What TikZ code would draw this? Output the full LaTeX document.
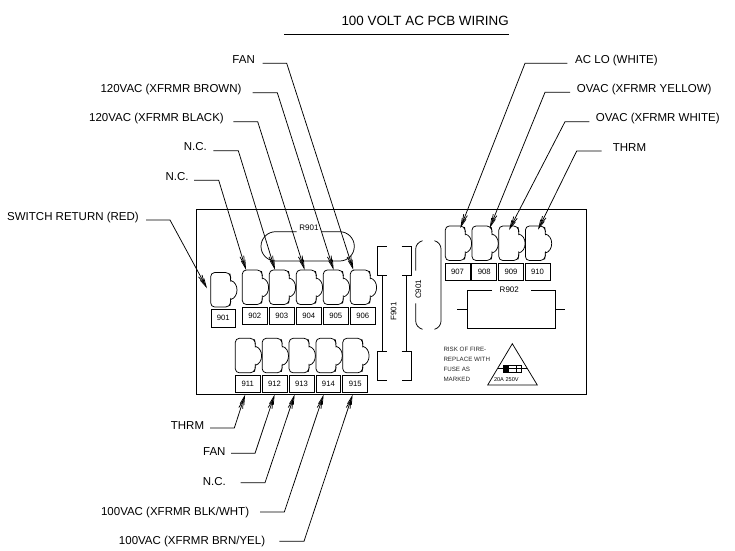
\documentclass[tikz,border=0pt]{standalone}
\usepackage{fontspec}
\setmainfont{Liberation Sans}
\usetikzlibrary{arrows.meta}
\tikzset{
  x=1pt,y=-1pt,
  wire/.style={line width=0.75pt,black},
  leadline/.style={wire,-{Straight Barb[length=8.5pt,width=4pt,sep=-6.5pt]Straight Barb[length=8.5pt,width=4pt]}},
  lbl/.style={inner sep=0pt,font=\fontsize{11.5}{13}\selectfont},
  ttl/.style={inner sep=0pt,font=\fontsize{13.4}{15}\selectfont},
  tiny lbl/.style={inner sep=0pt,font=\fontsize{8}{9}\selectfont},
  warn/.style={inner sep=0pt,anchor=west,font=\fontsize{6.2}{7}\selectfont,text=black!85},
  numbox/.style={draw,wire,inner sep=0pt,minimum width=24.8pt,minimum height=17.4pt,font=\fontsize{7.7}{9}\selectfont},
  plug/.pic={
    \draw[wire,rounded corners=4pt] (20,8) -- (20,5) -- (19,0) -- (0,0) -- (0,34.5) -- (19,34.5) -- (20,29.5) -- (20,27);
    \draw[wire] (20,8) .. controls (24,9) and (26.3,13) .. (26.3,17.5) .. controls (26.3,22) and (24,26) .. (20,27);
  }
}
% name, text, anchor, text x, baseline y, start x, line y, elbow x, tip x, tip y
\newcommand{\leader}[9]{%
  \node[lbl,anchor=base #2] (#1) at (#3,#4) {\csname lt#1\endcsname};
  \coordinate (#1s) at (#5,#6);
  \coordinate (#1e) at (#7,#6);
  \coordinate (#1t) at (#8,#9);
  \draw[leadline] (#1s) -- (#1e) -- (#1t);
}
\expandafter\def\csname ltfanA\endcsname{FAN}
\expandafter\def\csname ltbrownA\endcsname{120VAC (XFRMR BROWN)}
\expandafter\def\csname ltblackA\endcsname{120VAC (XFRMR BLACK)}
\expandafter\def\csname ltncA\endcsname{N.C.}
\expandafter\def\csname ltncB\endcsname{N.C.}
\expandafter\def\csname ltswitchA\endcsname{SWITCH RETURN (RED)}
\expandafter\def\csname ltaclo\endcsname{AC LO (WHITE)}
\expandafter\def\csname ltovacY\endcsname{OVAC (XFRMR YELLOW)}
\expandafter\def\csname ltovacW\endcsname{OVAC (XFRMR WHITE)}
\expandafter\def\csname ltthrmA\endcsname{THRM}
\expandafter\def\csname ltthrmB\endcsname{THRM}
\expandafter\def\csname ltfanB\endcsname{FAN}
\expandafter\def\csname ltncC\endcsname{N.C.}
\expandafter\def\csname ltblk\endcsname{100VAC (XFRMR BLK/WHT)}
\expandafter\def\csname ltbrn\endcsname{100VAC (XFRMR BRN/YEL)}
\begin{document}
\begin{tikzpicture}
\useasboundingbox (0,0) rectangle (735,550);
% title
\node[ttl,anchor=base east] (title) at (509,25.5) {100 VOLT AC PCB WIRING};
\coordinate (tl) at (284,34);
\coordinate (tr) at (509,34);
\draw[wire] (tl) -- (tr);
% board
\draw[wire,line width=0.9pt] (196.5,209.7) rectangle (586.7,394.7);
% plugs and boxes
\pic at (210.7,272.5) {plug};
\node[numbox] (n901) at (223.3,318.2) {901};
\foreach \n/\x in {902/242.3,903/269.3,904/296.3,905/323.3,906/350.3}{
  \pic at (\x,270) {plug};
  \node[numbox] (n\n) at (\x+12.4,315.8) {\n};
}
\foreach \n/\x in {911/235.3,912/262.2,913/289.1,914/316,915/342.8}{
  \pic at (\x,338.3) {plug};
  \node[numbox] (n\n) at (\x+12.4,384) {\n};
}
\foreach \n/\x in {907/445.3,908/472,909/498.8,910/525.4}{
  \pic at (\x,226) {plug};
  \node[numbox] (n\n) at (\x+12.2,271.8) {\n};
}
% R901 pill
\draw[wire,rounded corners=14.6pt] (296.7,231.7) -- (261,231.7) -- (261,261) -- (354.3,261) -- (354.3,231.7) -- (321.7,231.7);
\node[tiny lbl] (r901) at (309,227.5) {R901};
% F901
\draw[wire] (386.7,246.7) -- (377.2,246.7) -- (377.2,275.3) -- (386.7,275.3);
\draw[wire] (401.7,246.7) -- (411.4,246.7) -- (411.4,275.3) -- (401.7,275.3);
\draw[wire] (386.7,351) -- (377.2,351) -- (377.2,380.7) -- (386.7,380.7);
\draw[wire] (401.7,351) -- (411.4,351) -- (411.4,380.7) -- (401.7,380.7);
\draw[wire] (382,275.3) -- (382,351);
\draw[wire] (406,275.3) -- (406,351);
\node[tiny lbl,rotate=90] (f901) at (393.5,311.5) {F901};
% C901
\draw[wire] (422.5,240.7) .. controls (418.5,242) and (415.7,245) .. (415.7,249) -- (415.7,270.7);
\draw[wire] (415.7,303.3) -- (415.7,321) .. controls (415.7,325) and (418.5,328) .. (422.5,329.3);
\draw[wire] (434.5,240.7) .. controls (438.5,242) and (441,245) .. (441,249) -- (441,321) .. controls (441,325) and (438.5,328) .. (434.5,329.3);
\node[tiny lbl,rotate=90] (c901) at (418.3,289.3) {C901};
% R902
\draw[wire] (492,290.7) -- (467,290.7) -- (467,328.3) -- (555.3,328.3) -- (555.3,290.7) -- (530.7,290.7);
\draw[wire] (457.3,309.3) -- (467,309.3);
\draw[wire] (555.3,309.3) -- (565,309.3);
\node[tiny lbl] (r902) at (509.3,289.3) {R902};
% warning
\node[warn] (w1) at (443.3,349.7) {RISK OF FIRE-};
\node[warn] (w2) at (443.3,359.7) {REPLACE WITH};
\node[warn] (w3) at (443.3,369.7) {FUSE AS};
\node[warn] (w4) at (443.3,379.7) {MARKED};
\draw[wire] (512.3,343.7) -- (487.7,385) -- (537.3,385) -- cycle;
\draw[wire,fill=white] (503.3,365) rectangle (521.7,372.5);
\fill[black] (503.3,365) rectangle (509,372.5);
\draw[wire] (516.7,365) -- (516.7,372.5);
\draw[wire] (498.3,368.5) -- (526.7,368.5);
\node[inner sep=0pt,font=\fontsize{5.6}{7}\selectfont] (w5) at (506.3,379.6) {20A 250V};
% leaders
\leader{fanA}{east}{255}{63.3}{262.7}{63.3}{286.7}{353.3}{269.8}
\leader{brownA}{east}{241.7}{92.7}{252.7}{92.7}{277.3}{333.6}{269.8}
\leader{blackA}{east}{224}{121.7}{233.3}{121.7}{257.7}{304.6}{269.8}
\leader{ncA}{east}{207}{150.7}{213.3}{150.7}{238.3}{275}{269.8}
\leader{ncB}{east}{188.7}{180.3}{194}{180.3}{218.7}{246}{269.8}
\leader{switchA}{east}{139}{220}{146}{220}{170}{207}{288.3}
\leader{aclo}{west}{575}{63.3}{567.3}{63.3}{525}{460.4}{228}
\leader{ovacY}{west}{576.7}{92.3}{570}{92.3}{545}{489.7}{228}
\leader{ovacW}{west}{595.7}{121.7}{589.3}{121.7}{565}{509}{230}
\leader{thrmA}{west}{612.7}{151}{601.7}{151}{576.7}{538}{229.7}
\leader{thrmB}{east}{204.3}{429.5}{210}{428}{234.3}{245.1}{394.7}
\leader{fanB}{east}{225.7}{455.5}{231}{453.3}{255}{274.6}{394.7}
\leader{ncC}{east}{226}{485}{240.7}{482.7}{265}{294.6}{394.7}
\leader{blk}{east}{249.3}{515}{260}{512}{284.3}{323.6}{394.7}
\leader{brn}{east}{265.3}{544}{279.3}{541.3}{304}{352.6}{394.7}
\end{tikzpicture}
\end{document}
